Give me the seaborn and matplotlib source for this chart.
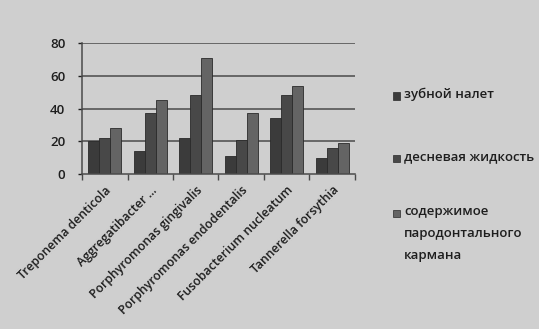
import matplotlib
matplotlib.use("Agg")
import matplotlib.pyplot as plt
import seaborn as sns
import pandas as pd
from matplotlib.patches import Rectangle

# Bacteria detected in each sample type
species = [
    "Treponema denticola",
    "Aggregatibacter ...",
    "Porphyromonas gingivalis",
    "Porphyromonas endodentalis",
    "Fusobacterium nucleatum",
    "Tannerella forsythia",
]
plaque = [20, 14, 22, 11, 34, 10]
gingival_fluid = [22, 37, 48, 21, 48, 16]
pocket_content = [28, 45, 71, 37, 54, 19]

series_names = [
    "зубной налет",
    "десневая жидкость",
    "содержимое\nпародонтального\nкармана",
]
y_ticks = [0, 20, 40, 60, 80]

df = pd.DataFrame({
    "species": species * 3,
    "value": plaque + gingival_fluid + pocket_content,
    "sample": [series_names[0]] * 6 + [series_names[1]] * 6 + [series_names[2]] * 6,
})

sns.set_theme(style="white")
plt.rcParams["font.family"] = ["Open Sans", "DejaVu Sans"]

bg = "#cfcfcf"
ink = "#1e1e1e"
colors = ["#3b3b3b", "#484848", "#646464"]

W, H = 539, 329
fig = plt.figure(figsize=(W / 100, H / 100), dpi=100, facecolor=bg)
ax = fig.add_axes([82 / W, 1 - 174 / H, 273 / W, 131 / H])
ax.set_facecolor(bg)

sns.barplot(data=df, x="species", y="value", hue="sample", palette=colors,
            width=0.72, gap=0, saturation=1, ax=ax, legend=False,
            edgecolor="#2a2a2a", linewidth=0.6)

ax.set_ylim(0, 80)
ax.set_yticks(y_ticks)
ax.set_xlim(-0.5, len(species) - 0.5)
for y in y_ticks[1:]:
    ax.axhline(y, color="#4a4a4a", lw=1.1, zorder=0)

for s in ["top", "right"]:
    ax.spines[s].set_visible(False)
for s in ["left", "bottom"]:
    ax.spines[s].set_color("#4a4a4a")
    ax.spines[s].set_linewidth(1.1)

ax.set_xlabel("")
ax.set_ylabel("")
ax.tick_params(axis="y", labelsize=9.5, colors=ink, length=3, width=1,
               left=True, pad=9)
for t in ax.get_yticklabels():
    t.set_fontweight("semibold")

# category boundary ticks below the axis
ax.set_xticks([i - 0.5 for i in range(len(species) + 1)], minor=True)
ax.tick_params(axis="x", which="minor", length=4, width=1, color="#4a4a4a", bottom=True)
ax.tick_params(axis="x", which="major", length=0, pad=7)
ax.set_xticks(range(len(species)))
ax.set_xticklabels(species, rotation=45, ha="right", rotation_mode="anchor",
                   fontsize=8.8, fontweight="semibold", color=ink)

# legend: square swatch beside each series name, aligned to its first line
legend_y = [96, 158, 213]
for name, c, yy in zip(series_names, colors, legend_y):
    fig.patches.append(Rectangle((393 / W, 1 - (yy + 3.5) / H), 7 / W, 7 / H,
                                 transform=fig.transFigure, facecolor=c,
                                 edgecolor="#2a2a2a", linewidth=0.5))
    fig.text(404 / W, 1 - (yy - 8) / H, name, ha="left", va="top",
             fontsize=9.5, fontweight="semibold", color=ink, linespacing=1.9)

fig.savefig("out.png", dpi=100, facecolor=bg)
